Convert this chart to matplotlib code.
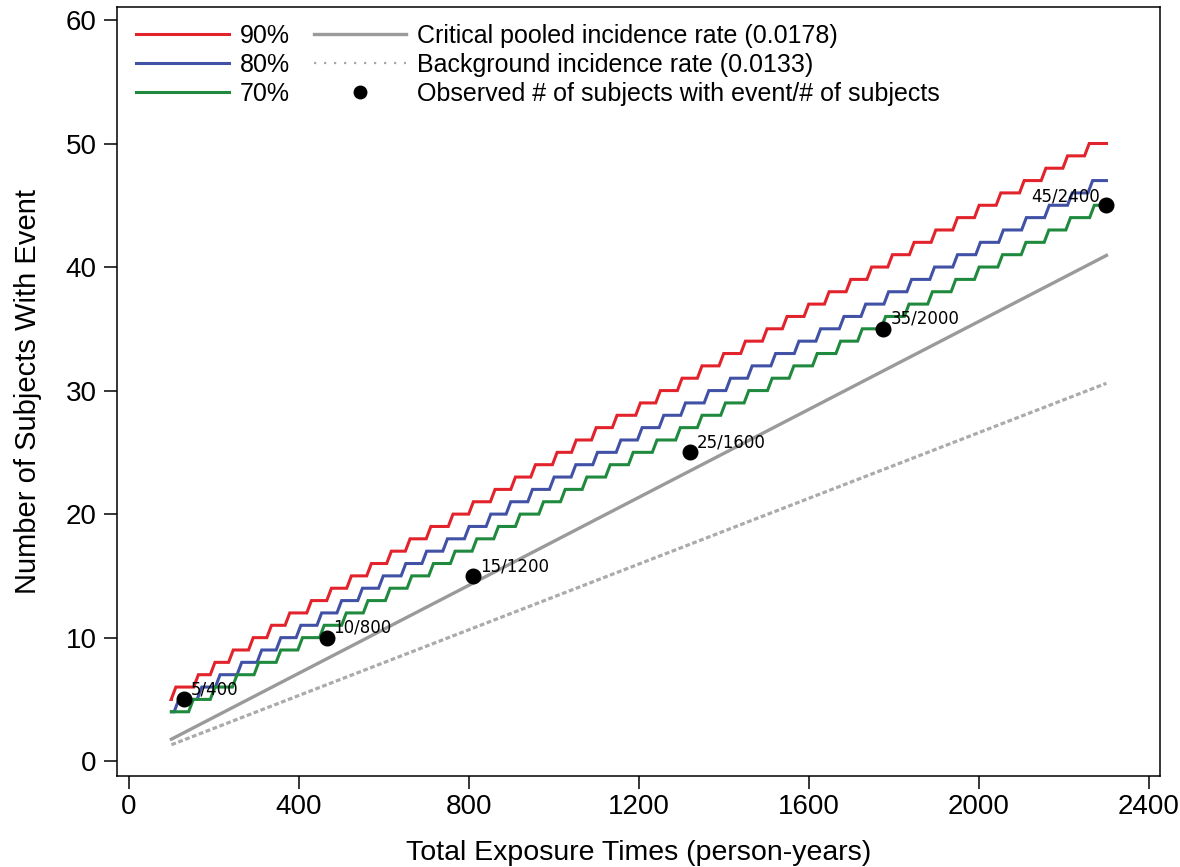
import matplotlib
matplotlib.use("Agg")
import matplotlib.pyplot as plt
from matplotlib.lines import Line2D

# ---------------- data ----------------
exposure_range = [100, 2300]

# step curves: starting level and the exposure times at which each curve rises by one
red_start_level = 5
red_steps_x = [105, 158, 197, 240, 287, 330, 373, 424, 471, 518, 565, 612, 656, 705,
               757, 805, 856, 904, 951, 1002, 1047, 1094, 1143, 1198, 1245, 1296, 1343,
               1394, 1445, 1496, 1543, 1594, 1642, 1693, 1742, 1791, 1842, 1893, 1944,
               1995, 2046, 2101, 2152, 2203, 2254]
blue_start_level = 4
blue_steps_x = [112, 166, 209, 260, 307, 352, 399, 448, 495, 544, 593, 646, 695, 744,
                795, 846, 893, 944, 995, 1046, 1097, 1152, 1202, 1253, 1304, 1359, 1410,
                1461, 1516, 1571, 1622, 1677, 1728, 1782, 1836, 1890, 1944, 1998, 2052,
                2106, 2160, 2214, 2262]
green_start_level = 4
green_steps_x = [146, 197, 249, 300, 352, 403, 454, 506, 557, 609, 660, 711, 762, 813,
                 864, 915, 970, 1021, 1072, 1127, 1181, 1237, 1292, 1343, 1398, 1453, 1508,
                 1559, 1614, 1669, 1720, 1775, 1830, 1885, 1940, 1995, 2050, 2105, 2159,
                 2210, 2266]

critical_y = [1.78, 40.94]
background_y = [1.33, 30.59]

obs_x = [130, 465, 810, 1320, 1775, 2300]
obs_y = [5, 10, 15, 25, 35, 45]
obs_labels = ["5/400", "10/800", "15/1200", "25/1600", "35/2000", "45/2400"]

series_labels = ["90%", "80%", "70%"]
line_labels = ["Critical pooled incidence rate (0.0178)",
               "Background incidence rate (0.0133)",
               "Observed # of subjects with event/# of subjects"]
x_ticks = [0, 400, 800, 1200, 1600, 2000, 2400]
y_ticks = [0, 10, 20, 30, 40, 50, 60]
x_title = "Total Exposure Times (person-years)"
y_title = "Number of Subjects With Event"

# ---------------- styling ----------------
plt.rcParams["font.family"] = ["Liberation Sans", "DejaVu Sans"]
RED, BLUE, GREEN = "#e2232b", "#4151a6", "#1f8a3e"
GREY = "#9a9a9a"


def step_path(start_level, risers, x0, x1, w=11):
    xs, ys = [x0], [start_level]
    lvl = start_level
    for r in risers:
        xs += [r - w / 2, r + w / 2]
        ys += [lvl, lvl + 1]
        lvl += 1
    xs.append(x1)
    ys.append(lvl)
    return xs, ys


W, H = 1180, 867
fig = plt.figure(figsize=(W / 100, H / 100), dpi=100)
AX_TOP, AX_BOTTOM = 7, 776
ax = fig.add_axes([117 / W, 1 - AX_BOTTOM / H, (1160 - 117) / W, (AX_BOTTOM - AX_TOP) / H])

ax.plot(exposure_range, background_y, color="#ababab", lw=2.3, ls=(0, (1.5, 0.8)), zorder=2)
ax.plot(exposure_range, critical_y, color=GREY, lw=2.4, zorder=3)

for start, risers, col in [(red_start_level, red_steps_x, RED),
                           (blue_start_level, blue_steps_x, BLUE),
                           (green_start_level, green_steps_x, GREEN)]:
    xs, ys = step_path(start, risers, exposure_range[0], exposure_range[1])
    ax.plot(xs, ys, color=col, lw=2.2, solid_joinstyle="miter", zorder=4)

ax.plot(obs_x, obs_y, "o", color="black", ms=10.5, zorder=6)
for xv, yv, lab in zip(obs_x, obs_y, obs_labels):
    if xv == obs_x[-1]:
        ax.annotate(lab, (xv, yv), xytext=(-5, 3), textcoords="offset points",
                    ha="right", va="baseline", fontsize=12, family="DejaVu Sans", zorder=7)
    else:
        ax.annotate(lab, (xv, yv), xytext=(5, 3.5), textcoords="offset points",
                    ha="left", va="baseline", fontsize=12, family="DejaVu Sans", zorder=7)

ax.set_xlim(-28, 2426)
ax.set_ylim(-1.2, 61.05)
ax.set_xticks(x_ticks)
ax.set_yticks(y_ticks)
ax.tick_params(axis="x", direction="out", length=9, width=1.1, pad=4, labelsize=20)
ax.tick_params(axis="y", direction="out", length=9.5, width=1.1, pad=5, labelsize=20)
for s in ax.spines.values():
    s.set_linewidth(1.1)

ax.set_xlabel(x_title, fontsize=20.5, labelpad=14)
ax.set_ylabel(y_title, fontsize=21, labelpad=17)

handles = [Line2D([], [], color=RED, lw=2.2),
           Line2D([], [], color=BLUE, lw=2.2),
           Line2D([], [], color=GREEN, lw=2.2),
           Line2D([], [], color=GREY, lw=2.4),
           Line2D([], [], color="#a8a8a8", lw=1.6, ls=(0, (1, 3.5))),
           Line2D([], [], color="black", marker="o", ls="none", ms=9)]
labels = series_labels + line_labels
ax.legend(handles, labels, ncol=2, loc="upper left", bbox_to_anchor=(0.0135, 0.985),
          frameon=False, fontsize=18, handlelength=3.7, handletextpad=0.45,
          columnspacing=0.95, labelspacing=0.2, borderpad=0.2, borderaxespad=0)

fig.savefig("out.png", dpi=100)
